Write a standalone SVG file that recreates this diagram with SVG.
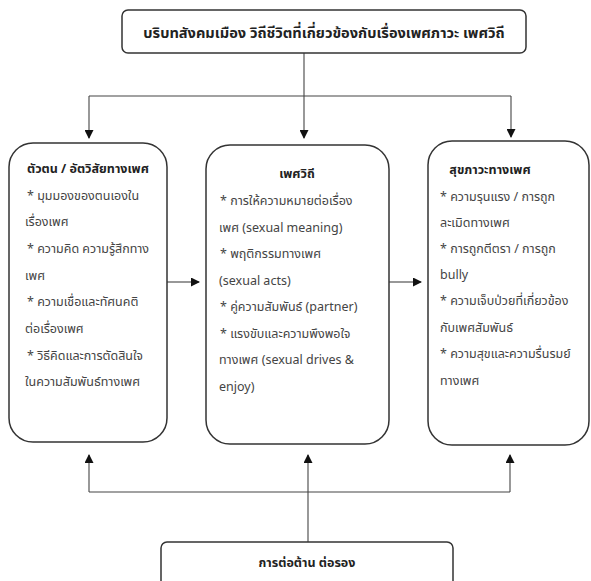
<svg xmlns="http://www.w3.org/2000/svg" width="591" height="581" viewBox="0 0 591 581">
<defs>
<marker id="ah" markerWidth="9" markerHeight="9" refX="8" refY="4.5" orient="auto" markerUnits="userSpaceOnUse">
<path d="M0,0 L9,4.5 L0,9 Z" fill="#111"/>
</marker>
<style>
.box{fill:#fff;stroke:#333;stroke-width:1.5}
.ln{fill:none;stroke:#444;stroke-width:1.1}
.t{font-family:"Tahoma","Noto Sans Thai","Leelawadee UI","Loma","Garuda","DejaVu Sans",sans-serif;font-size:12.5px;fill:#444}
.b{font-weight:bold;fill:#222}
.c{text-anchor:middle}
.big{font-size:14.6px}
</style>
</defs>
<rect width="591" height="581" fill="#fff"/>
<g id="connectors">
<path class="ln" d="M304,53 V96"/>
<path class="ln" d="M89,96 H511"/>
<path class="ln" d="M89,96 V138" marker-end="url(#ah)"/>
<path class="ln" d="M304,96 V138" marker-end="url(#ah)"/>
<path class="ln" d="M511,96 V137" marker-end="url(#ah)"/>
<path class="ln" d="M167,282 H199" marker-end="url(#ah)"/>
<path class="ln" d="M389,282 H421" marker-end="url(#ah)"/>
<path class="ln" d="M308,542 V492"/>
<path class="ln" d="M89,492 H510"/>
<path class="ln" d="M89,492 V455" marker-end="url(#ah)"/>
<path class="ln" d="M308,492 V455" marker-end="url(#ah)"/>
<path class="ln" d="M510,492 V455" marker-end="url(#ah)"/>
</g>
<g id="context">
<rect class="box" x="122" y="10" width="404" height="43" rx="6"/>
<text class="t b c big" x="324" y="37.5">บริบทสังคมเมือง วิถีชีวิตที่เกี่ยวข้องกับเรื่องเพศภาวะ เพศวิถี</text>
</g>
<g id="self">
<rect class="box" x="9" y="143" width="158" height="299" rx="24"/>
<text class="t b" x="27" y="173">ตัวตน / อัตวิสัยทางเพศ</text>
<text class="t" x="27" y="200">* มุมมองของตนเองใน</text>
<text class="t" x="25" y="226">เรื่องเพศ</text>
<text class="t" x="27" y="253">* ความคิด ความรู้สึกทาง</text>
<text class="t" x="25" y="280">เพศ</text>
<text class="t" x="27" y="306">* ความเชื่อและทัศนคติ</text>
<text class="t" x="25" y="333">ต่อเรื่องเพศ</text>
<text class="t" x="27" y="360">* วิธีคิดและการตัดสินใจ</text>
<text class="t" x="25" y="386">ในความสัมพันธ์ทางเพศ</text>
</g>
<g id="sexuality">
<rect class="box" x="206" y="145" width="183" height="299" rx="24"/>
<text class="t b c" x="297" y="178">เพศวิถี</text>
<text class="t" x="220" y="205">* การให้ความหมายต่อเรื่อง</text>
<text class="t" x="219" y="232">เพศ (sexual meaning)</text>
<text class="t" x="220" y="258">* พฤติกรรมทางเพศ</text>
<text class="t" x="219" y="285">(sexual acts)</text>
<text class="t" x="220" y="311">* คู่ความสัมพันธ์ (partner)</text>
<text class="t" x="220" y="338">* แรงขับและความพึงพอใจ</text>
<text class="t" x="219" y="364">ทางเพศ (sexual drives &amp;</text>
<text class="t" x="219" y="391">enjoy)</text>
</g>
<g id="health">
<rect class="box" x="428" y="141" width="161" height="304" rx="24"/>
<text class="t b c" x="490" y="174">สุขภาวะทางเพศ</text>
<text class="t" x="440" y="201">* ความรุนแรง / การถูก</text>
<text class="t" x="440" y="227">ละเมิดทางเพศ</text>
<text class="t" x="440" y="253">* การถูกตีตรา / การถูก</text>
<text class="t" x="440" y="279">bully</text>
<text class="t" x="440" y="305">* ความเจ็บป่วยที่เกี่ยวข้อง</text>
<text class="t" x="440" y="332">กับเพศสัมพันธ์</text>
<text class="t" x="440" y="358">* ความสุขและความรื่นรมย์</text>
<text class="t" x="440" y="385">ทางเพศ</text>
</g>
<g id="resistance">
<rect class="box" x="161" y="542" width="292" height="50" rx="6"/>
<text class="t b c" x="307" y="567">การต่อต้าน ต่อรอง</text>
</g>
</svg>
